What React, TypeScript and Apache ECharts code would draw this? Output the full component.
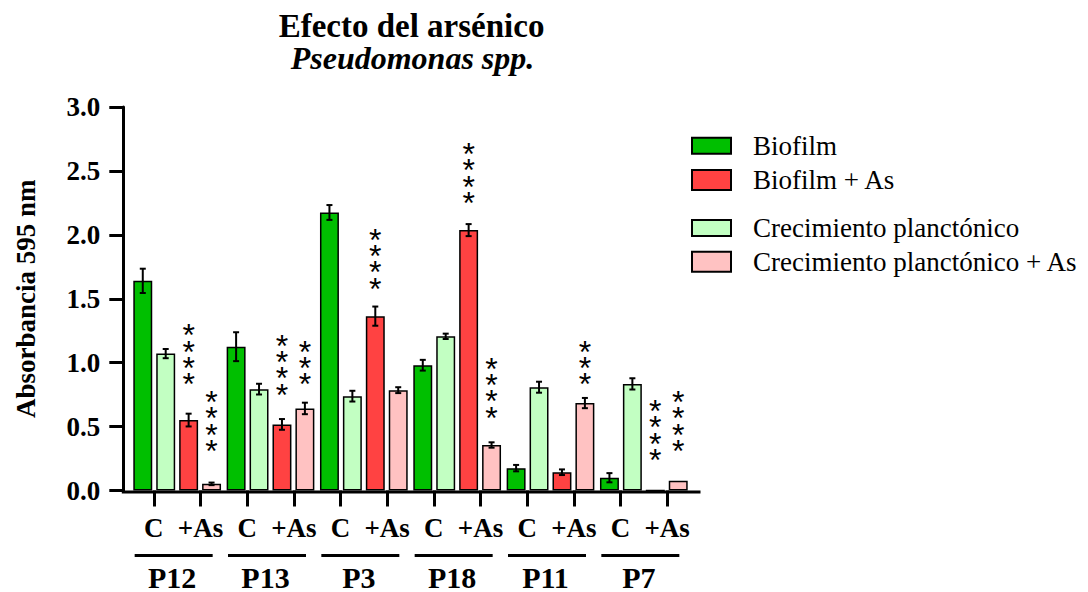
import React, { useEffect, useRef } from 'react';
import * as echarts from 'echarts';

// Strains and the two conditions shown under each one
const groups = ['P12', 'P13', 'P3', 'P18', 'P11', 'P7'];
const conditionLabels = ['C', '+As'];

// Absorbance at 595 nm (mean) and its error (±)
const biofilm = [1.64, 1.125, 2.175, 0.98, 0.175, 0.1];
const biofilmErr = [0.095, 0.113, 0.058, 0.042, 0.025, 0.036];
const planktonic = [1.071, 0.793, 0.738, 1.206, 0.808, 0.834];
const planktonicErr = [0.036, 0.042, 0.042, 0.021, 0.043, 0.044];
const biofilmAs = [0.551, 0.517, 1.364, 2.037, 0.143, 0];
const biofilmAsErr = [0.05, 0.042, 0.075, 0.047, 0.022, 0];
const planktonicAs = [0.052, 0.642, 0.785, 0.356, 0.684, 0.076];
const planktonicAsErr = [0.01, 0.045, 0.023, 0.021, 0.04, 0];

// Significance marks: number of asterisks and the absorbance level of the lowest one
const biofilmAsStars = [4, 4, 4, 4, 0, 4];
const biofilmAsStarLevel = [0.83, 0.75, 1.58, 2.25, 0, 0.24];
const planktonicAsStars = [4, 3, 0, 4, 3, 4];
const planktonicAsStarLevel = [0.31, 0.83, 0, 0.57, 0.83, 0.31];

const yMin = 0;
const yMax = 3;
const yStep = 0.5;

const seriesNames = ['Biofilm', 'Crecimiento planctónico', 'Biofilm + As', 'Crecimiento planctónico + As'];
const seriesColors = ['#00bf00', '#c2ffc2', '#ff4242', '#ffc2c2'];

const SERIF = '"Liberation Serif", "Times New Roman", Times, serif';
const SANS = '"Liberation Sans", Arial, sans-serif';

const GRID_LEFT = 130.5;
const GRID_TOP = 107;
const GRID_WIDTH = 560;
const GRID_HEIGHT = 385;
const Y_AXIS_OFFSET = 7.2;
const CAT_GAP = 0.06;
const BAR_GAP = 0.21;
const STAR_STEP = 16.3;

export default function App() {
  const ref = useRef<HTMLDivElement>(null);

  useEffect(() => {
    const chart = echarts.init(ref.current!, null, { renderer: 'svg' });

    const means = [biofilm, planktonic, biofilmAs, planktonicAs];
    const errs = [biofilmErr, planktonicErr, biofilmAsErr, planktonicAsErr];
    const stars = [groups.map(() => 0), groups.map(() => 0), biofilmAsStars, planktonicAsStars];
    const starLevels = [groups.map(() => 0), groups.map(() => 0), biofilmAsStarLevel, planktonicAsStarLevel];

    const annotations: number[][] = [];
    groups.forEach((_, g) => {
      means.forEach((m, s) => {
        annotations.push([g, s, m[g], errs[s][g], stars[s][g], starLevels[s][g]]);
      });
    });

    const subCategories = groups.flatMap((g) => conditionLabels.map((c) => `${g}|${c}`));

    const legendBase = {
      orient: 'vertical',
      left: 691,
      padding: 0,
      icon: 'rect',
      itemWidth: 39,
      selectedMode: false,
      itemStyle: { borderColor: '#000', borderWidth: 2 },
      textStyle: {
        fontFamily: SERIF,
        fontSize: 27,
        color: '#000',
        lineHeight: 28,
        padding: [0, 0, 0, 17],
      },
    };

    const axisX = GRID_LEFT - Y_AXIS_OFFSET;
    const axisY = GRID_TOP + GRID_HEIGHT;

    chart.setOption({
      animation: false,
      backgroundColor: '#fff',
      title: [
        {
          text: 'Efecto del arsénico',
          left: 411.5,
          top: 10,
          padding: 0,
          textAlign: 'center',
          textStyle: { fontFamily: SERIF, fontWeight: 'bold', fontSize: 33, lineHeight: 31, color: '#000' },
        },
        {
          text: 'Pseudomonas spp.',
          left: 412.5,
          top: 42,
          padding: 0,
          textAlign: 'center',
          textStyle: {
            fontFamily: SERIF,
            fontWeight: 'bold',
            fontStyle: 'italic',
            fontSize: 32,
            lineHeight: 31,
            color: '#000',
          },
        },
      ],
      legend: [
        { ...legendBase, data: ['Biofilm'], top: 131.7, itemHeight: 16 },
        { ...legendBase, data: ['Biofilm + As'], top: 166, itemHeight: 20 },
        { ...legendBase, data: ['Crecimiento planctónico'], top: 214, itemHeight: 16 },
        { ...legendBase, data: ['Crecimiento planctónico + As'], top: 247.7, itemHeight: 20 },
      ],
      grid: { left: GRID_LEFT, top: GRID_TOP, width: GRID_WIDTH, height: GRID_HEIGHT, containLabel: false },
      xAxis: [
        {
          type: 'category',
          data: groups,
          axisLine: { show: false },
          axisTick: { show: false },
          axisLabel: { show: false },
        },
        {
          type: 'category',
          data: subCategories,
          position: 'bottom',
          axisLine: { show: false },
          axisTick: { show: true, alignWithLabel: true, length: 16, lineStyle: { color: '#000', width: 3 } },
          axisLabel: {
            interval: 0,
            margin: 24,
            formatter: (v: string) => v.split('|')[1],
            fontFamily: SERIF,
            fontWeight: 'bold',
            fontSize: 27,
            color: '#000',
          },
        },
        {
          type: 'category',
          data: groups,
          position: 'bottom',
          axisLine: { show: false },
          axisTick: { show: false },
          axisLabel: {
            interval: 0,
            margin: 63.5,
            formatter: (v: string) => `{l| }{gapL| }\n{n|${v}}{gapN| }`,
            rich: {
              l: { width: 78, height: 3, lineHeight: 3, fontSize: 3, backgroundColor: '#000' },
              gapL: { width: 7, height: 3, lineHeight: 3, fontSize: 3 },
              n: { fontFamily: SERIF, fontWeight: 'bold', fontSize: 30, lineHeight: 40, color: '#000' },
              gapN: { width: 10, fontSize: 3 },
            },
          },
        },
      ],
      yAxis: {
        type: 'value',
        min: yMin,
        max: yMax,
        interval: yStep,
        offset: Y_AXIS_OFFSET,
        splitLine: { show: false },
        axisLine: { show: true, lineStyle: { color: '#000', width: 3 } },
        axisTick: { show: true, length: 14, lineStyle: { color: '#000', width: 3 } },
        axisLabel: {
          margin: 23,
          formatter: (v: number) => v.toFixed(1),
          fontFamily: SERIF,
          fontWeight: 'bold',
          fontSize: 27,
          color: '#000',
        },
        name: 'Absorbancia 595 nm',
        nameLocation: 'middle',
        nameGap: 84,
        nameTextStyle: { fontFamily: SERIF, fontWeight: 'bold', fontSize: 27, color: '#000' },
      },
      graphic: [
        {
          type: 'line',
          z: 100,
          shape: { x1: axisX - 1.5, y1: axisY, x2: GRID_LEFT + GRID_WIDTH + 10, y2: axisY },
          style: { stroke: '#000', lineWidth: 3 },
        },
      ],
      series: [
        ...seriesNames.map((name, i) => ({
          type: 'bar',
          name,
          xAxisIndex: 0,
          yAxisIndex: 0,
          data: means[i],
          barGap: `${BAR_GAP * 100}%`,
          barCategoryGap: `${CAT_GAP * 100}%`,
          itemStyle: { color: seriesColors[i], borderColor: '#000', borderWidth: 1.5 },
          silent: true,
        })),
        {
          type: 'custom',
          xAxisIndex: 0,
          yAxisIndex: 0,
          silent: true,
          z: 10,
          encode: { x: 0, y: 2 },
          data: annotations,
          renderItem: (_params: any, api: any) => {
            const g = api.value(0);
            const s = api.value(1);
            const mean = api.value(2);
            const err = api.value(3);
            const n = api.value(4);
            const level = api.value(5);
            const band = api.size([1, 0])[0];
            const inner = band * (1 - CAT_GAP);
            const w = inner / (4 + 3 * BAR_GAP);
            const x = api.coord([g, 0])[0] - inner / 2 + w / 2 + s * w * (1 + BAR_GAP);
            const children: any[] = [];
            if (err > 0) {
              const yt = api.coord([g, mean + err])[1];
              const yb = api.coord([g, mean - err])[1];
              const cap = 3;
              const style = { stroke: '#000', lineWidth: 2 };
              children.push({ type: 'line', shape: { x1: x, y1: yt, x2: x, y2: yb }, style });
              children.push({ type: 'line', shape: { x1: x - cap, y1: yt, x2: x + cap, y2: yt }, style });
              children.push({ type: 'line', shape: { x1: x - cap, y1: yb, x2: x + cap, y2: yb }, style });
            }
            // column of asterisks, the lowest one centred on its level
            const base = api.coord([g, level])[1];
            for (let k = 0; k < n; k++) {
              children.push({
                type: 'text',
                x,
                y: base - k * STAR_STEP,
                style: {
                  text: '*',
                  fontFamily: SANS,
                  fontSize: 32,
                  fill: '#000',
                  align: 'center',
                  verticalAlign: 'middle',
                },
              });
            }
            return { type: 'group', children };
          },
        },
      ],
    });

    return () => chart.dispose();
  }, []);

  return (
    <div
      ref={ref}
      style={{ position: 'fixed', left: 0, top: 0, width: 1088, height: 592, background: '#fff' }}
    />
  );
}
